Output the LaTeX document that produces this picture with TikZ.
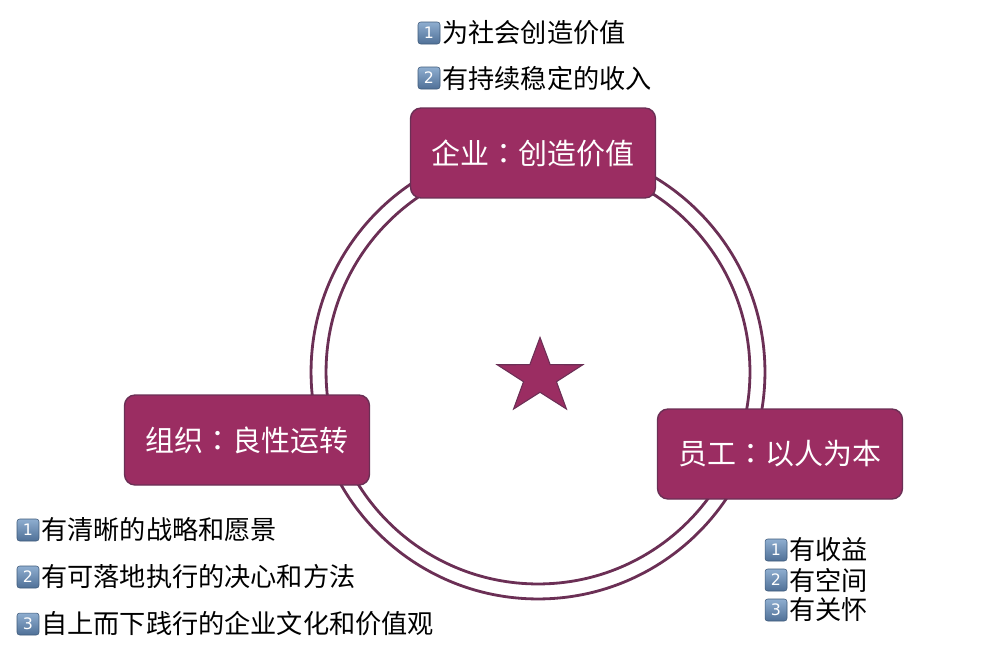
\documentclass[tikz,border=0pt]{standalone}
\usepackage{fontspec}
\setmainfont{Noto Sans CJK SC}
\newfontfamily\tcfont{Noto Sans CJK TC}
\newfontfamily\keyfont{DejaVu Sans}
\newcommand{\midcolon}{{\tcfont ：}}
\usepackage{tikz}
\usetikzlibrary{shapes.geometric}
\definecolor{plum}{HTML}{9B2D62}
\definecolor{plumdark}{HTML}{6B2F55}
\definecolor{keytop}{HTML}{8FAED0}
\definecolor{keybot}{HTML}{4F7097}

\begin{document}
\begin{tikzpicture}[x=0.02cm, y=-0.02cm,
  box/.style={draw=plumdark, line width=0.8pt, fill=plum, rounded corners=6pt, minimum width=4.9cm, minimum height=1.8cm, text=white, font=\fontsize{16.5}{20}\selectfont},
  ring/.style={draw=plumdark, line width=1.6pt},
  badge/.style={rounded corners=1.5pt, minimum size=0.44cm, inner sep=0pt, top color=keytop, bottom color=keybot, draw=keybot!80!black, line width=0.3pt, text=white, font=\keyfont\fontsize{9}{10}\selectfont},
  item/.style={anchor=west, inner sep=0pt, font=\fontsize{14.9}{18}\selectfont}]
\useasboundingbox (0,0) rectangle (1000,656);
\coordinate (o) at (538,372);
\draw[ring] (o) circle[radius=4.54cm];
\draw[ring] (o) circle[radius=4.24cm];
\node[star, star points=5, star point ratio=2.6, minimum size=1.8cm, inner sep=0pt, yscale=0.88, fill=plum, draw=plumdark, line width=0.6pt] (ctr) at (540,377) {};
\node[box] (firm) at (533,153) {企业\midcolon 创造价值};
\node[box] (org)  at (247,440) {组织\midcolon 良性运转};
\node[box] (staff) at (780,454) {员工\midcolon 以人为本};
% firm
\node[badge] (f1) at (429,33) {1};
\node[item] (f1t) at (442,33) {为社会创造价值};
\node[badge] (f2) at (429,78) {2};
\node[item] (f2t) at (442,78) {有持续稳定的收入};
% org
\node[badge] (o1) at (28,530) {1};
\node[item] (o1t) at (41,530) {有清晰的战略和愿景};
\node[badge] (o2) at (28,577) {2};
\node[item] (o2t) at (41,577) {有可落地执行的决心和方法};
\node[badge] (o3) at (28,624) {3};
\node[item] (o3t) at (41,624) {自上而下践行的企业文化和价值观};
% staff
\node[badge] (s1) at (776,550) {1};
\node[item] (s1t) at (789,550) {有收益};
\node[badge] (s2) at (776,580) {2};
\node[item] (s2t) at (789,580) {有空间};
\node[badge] (s3) at (776,610) {3};
\node[item] (s3t) at (789,610) {有关怀};
\end{tikzpicture}
\end{document}
